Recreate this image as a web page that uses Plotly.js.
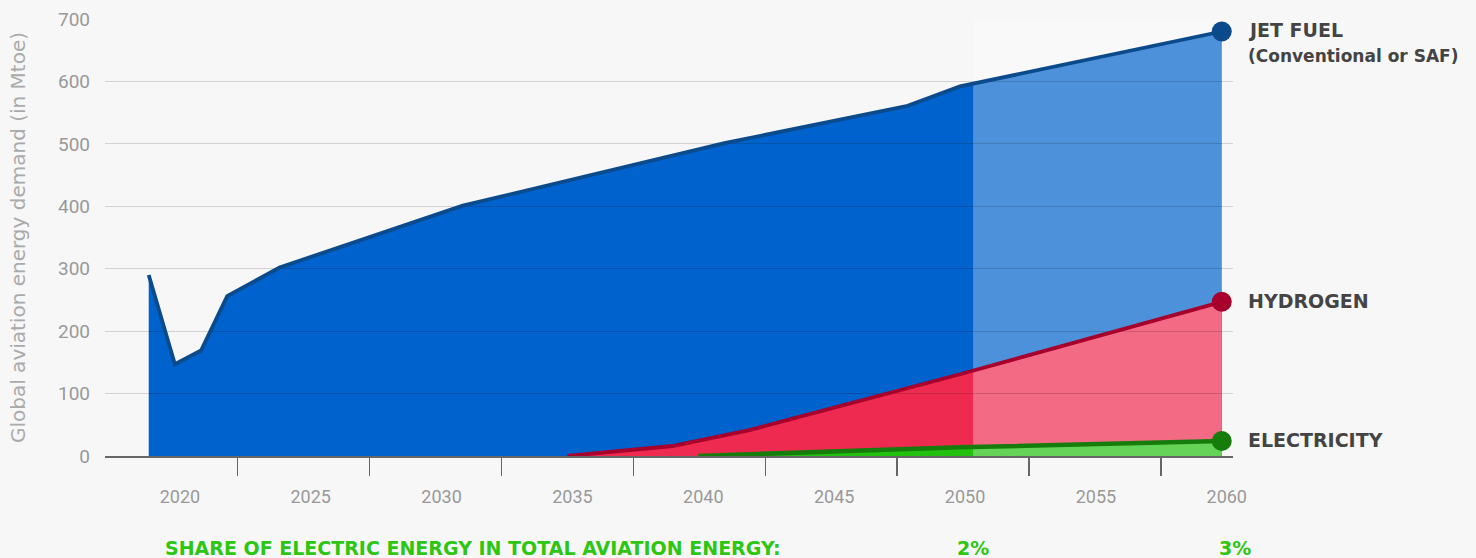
<!DOCTYPE html>
<html>
<head>
<meta charset="utf-8">
<script src="https://cdn.plot.ly/plotly-3.0.1.min.js"></script>
<style>
  html, body { margin: 0; padding: 0; background: #f7f7f7; }
  #chart { width: 1476px; height: 558px; }
</style>
</head>
<body>
<div id="chart"></div>
<script>
// ---- data ----
const jetYears = [2019, 2020, 2021, 2022, 2024, 2031, 2041, 2048, 2050, 2060];
const jetFuel  = [290, 147, 169, 256, 302, 401, 501, 561, 592, 680];

const h2Years  = [2035, 2037, 2038, 2039, 2042, 2050, 2060];
const hydrogen = [0, 9, 12, 16, 42, 131, 247];

const elecYears   = [2040, 2050, 2060];
const electricity = [0, 14, 24];

const shareYears  = [2050, 2060];
const shareLabels = ['2%', '3%'];

const seriesNames = ['JET FUEL', 'HYDROGEN', 'ELECTRICITY'];
const jetSubLabel = '(Conventional or SAF)';
const shareTitle  = 'SHARE OF ELECTRIC ENERGY IN TOTAL AVIATION ENERGY:';
const yTitle      = 'Global aviation energy demand (in Mtoe)';

// ---- style ----
const projectionStart = 2050.5;
const xRange = [2017.33, 2060.43];
const yRange = [0, 700];
const tickMarkPositions = [2022.4, 2027.44, 2032.48, 2037.52, 2042.56, 2047.6, 2052.64, 2057.68];
const fillCols = ['#0062cc', '#ee2a50', '#22c10f'];
const lineCols = ['#0b4a8b', '#a8002c', '#167c0b'];
const labelFont = 'DejaVu Sans, Noto Sans, sans-serif';
const numFont = 'Roboto, Liberation Sans, sans-serif';

const sets = [[jetYears, jetFuel], [h2Years, hydrogen], [elecYears, electricity]];

const traces = [];
// filled areas (subplot 1)
sets.forEach(([xs, ys], i) => {
  traces.push({
    type: 'scatter', mode: 'lines', x: xs, y: ys, fill: 'tozeroy',
    fillcolor: fillCols[i], line: {width: 0.5, color: fillCols[i]},
    xaxis: 'x', yaxis: 'y', hoverinfo: 'skip', showlegend: false
  });
});
// projection highlight band (lightens everything from 2050 on)
const lastYear = jetYears[jetYears.length - 1];
traces.push({
  type: 'scatter', mode: 'lines',
  x: [projectionStart, lastYear, lastYear, projectionStart],
  y: [yRange[0], yRange[0], yRange[1], yRange[1]],
  fill: 'toself', fillcolor: 'rgba(255,255,255,0.30)', line: {width: 0},
  xaxis: 'x', yaxis: 'y', hoverinfo: 'skip', showlegend: false
});
// lines (subplot 2, drawn above the grid)
sets.forEach(([xs, ys], i) => {
  traces.push({
    type: 'scatter', mode: 'lines', x: xs, y: ys,
    line: {width: i === 2 ? 4.5 : 3.8, color: lineCols[i]},
    xaxis: 'x2', yaxis: 'y2', hoverinfo: 'skip', showlegend: false
  });
});
// end markers
sets.forEach(([xs, ys], i) => {
  traces.push({
    type: 'scatter', mode: 'markers', x: xs.slice(-1), y: ys.slice(-1),
    marker: {size: 20, color: lineCols[i]}, cliponaxis: false,
    xaxis: 'x2', yaxis: 'y2', hoverinfo: 'skip', showlegend: false
  });
});

const annotations = [];
sets.forEach(([xs, ys], i) => {
  annotations.push({
    xref: 'x2', yref: 'y2', x: xs[xs.length - 1], y: ys[ys.length - 1],
    xanchor: 'left', yanchor: 'middle', xshift: 24, yshift: 1,
    text: seriesNames[i], showarrow: false,
    font: {family: labelFont, size: 19, color: '#444444', weight: 'bold'}
  });
});
annotations.push({
  xref: 'x2', yref: 'y2', x: jetYears[jetYears.length - 1], y: jetFuel[jetFuel.length - 1],
  xanchor: 'left', yanchor: 'middle', xshift: 24, yshift: -25,
  text: jetSubLabel, showarrow: false,
  font: {family: labelFont, size: 17, color: '#444444', weight: 'bold'}
});
annotations.push({
  xref: 'paper', yref: 'paper', x: 0.0514, y: 0, yshift: -92,
  xanchor: 'left', yanchor: 'middle', text: shareTitle, showarrow: false,
  font: {family: labelFont, size: 19, color: '#2dc613', weight: 'bold'}
});
shareYears.forEach((yr, i) => {
  annotations.push({
    xref: 'x2', yref: 'paper', x: yr, y: 0, yshift: -92, xshift: 13,
    xanchor: 'center', yanchor: 'middle', text: shareLabels[i], showarrow: false,
    font: {family: labelFont, size: 19, color: '#2dc613', weight: 'bold'}
  });
});

const layout = {
  width: 1476, height: 558,
  margin: {l: 105, r: 243, t: 19, b: 102},
  paper_bgcolor: '#f7f7f7', plot_bgcolor: 'rgba(0,0,0,0)',
  showlegend: false,
  xaxis: {
    range: xRange, domain: [0, 1], anchor: 'y',
    tickmode: 'linear', tick0: 2020, dtick: 5, ticks: '',
    showgrid: false, zeroline: false, showline: false,
    ticklabelstandoff: 28, ticklabelshift: 5,
    tickfont: {family: numFont, size: 18, color: '#999999'}
  },
  yaxis: {
    range: yRange, domain: [0, 1], anchor: 'x',
    tickmode: 'linear', tick0: 0, dtick: 100, ticks: '',
    showgrid: false, zeroline: false, showline: false,
    ticklabelstandoff: 14,
    tickfont: {family: numFont, size: 19, color: '#999999'},
    title: {text: yTitle, standoff: 26, font: {family: labelFont, size: 20, color: '#aaaaaa'}}
  },
  xaxis2: {
    range: xRange, domain: [0, 1], anchor: 'y2',
    tickmode: 'array', tickvals: tickMarkPositions,
    ticks: 'outside', ticklen: 18, tickwidth: 1.5, tickcolor: '#666666',
    showticklabels: false, showgrid: false, zeroline: false,
    showline: true, linecolor: '#666666', linewidth: 1.5
  },
  yaxis2: {
    range: yRange, domain: [0, 1], anchor: 'x2',
    tickmode: 'linear', tick0: 0, dtick: 100, ticks: '',
    showticklabels: false, showgrid: true, gridcolor: 'rgba(0,0,0,0.15)', gridwidth: 1.2,
    zeroline: false, showline: false
  },
  annotations: annotations
};

Plotly.newPlot('chart', traces, layout, {staticPlot: true, displayModeBar: false});
</script>
</body>
</html>
